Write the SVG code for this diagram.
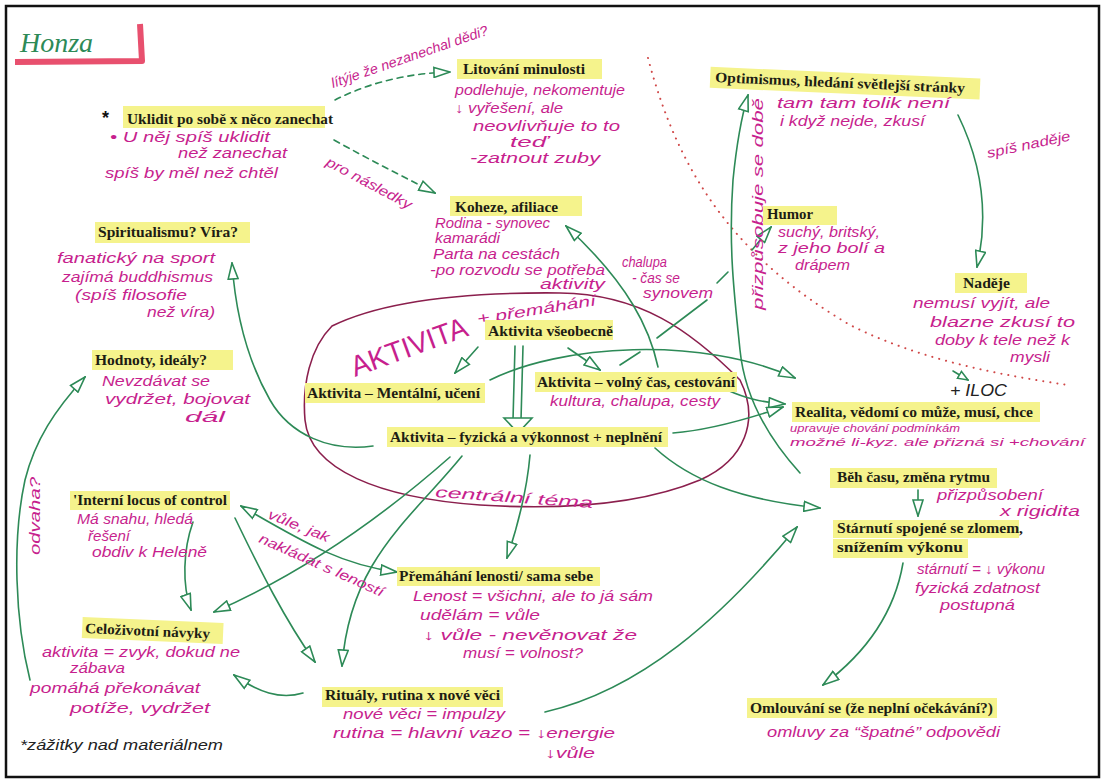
<svg xmlns="http://www.w3.org/2000/svg" width="1105" height="782" viewBox="0 0 1105 782">
<style>
.t{font-family:"Liberation Serif",serif;font-weight:bold;font-size:14.5px;fill:#1d1d14}
.h{font-family:"Liberation Sans",sans-serif;font-style:italic;font-size:14px;fill:#c71f8e}
.k{font-family:"Liberation Sans",sans-serif;font-style:italic;font-size:14px;fill:#222}
.hl{fill:#f5f38c}
.c{fill:none;stroke:#2d8a57;stroke-width:1.6;stroke-linecap:round}
.d{stroke-dasharray:6 5}
</style>
<defs>
<marker id="a" viewBox="0 0 18 12" refX="17" refY="6" markerWidth="18" markerHeight="12" markerUnits="userSpaceOnUse" orient="auto-start-reverse">
<path d="M1,1 L17,6 L1,11 Z" fill="#fff" stroke="#2d8a57" stroke-width="1.6" stroke-dasharray="none"/>
</marker>
<marker id="s" viewBox="0 0 12 10" refX="11" refY="5" markerWidth="12" markerHeight="10" markerUnits="userSpaceOnUse" orient="auto">
<path d="M1,1 L11,5 L1,9 Z" fill="#fff" stroke="#2d8a57" stroke-width="1.5"/>
</marker>
</defs>
<rect x="0" y="0" width="1105" height="782" fill="#fff"/>
<rect x="6" y="6" width="1093" height="771" fill="none" stroke="#111" stroke-width="2.5"/>

<g id="title">
<path d="M15,62 L142,61 L140,24" fill="none" stroke="#e8506e" stroke-width="6" stroke-linejoin="round"/>
<text x="20" y="52" font-family="Liberation Serif, serif" font-style="italic" font-size="28" fill="#2d8a57" textLength="73" lengthAdjust="spacingAndGlyphs">Honza</text>
</g>

<g id="decor">
<path d="M648,58 C680,180 740,260 850,325 C920,360 1000,375 1068,385" fill="none" stroke="#d04848" stroke-width="2" stroke-dasharray="0.1 7" stroke-linecap="round"/>
<path d="M332,326 C385,300 465,292 560,293 C640,294 690,330 740,380 C760,420 745,460 700,480 C640,505 560,510 480,505 C380,498 310,470 305,420 C302,385 310,348 332,326 Z" fill="none" stroke="#8b1f4d" stroke-width="1.6"/>
</g>

<g id="connectors">
<path class="c d" d="M335,100 C370,82 410,73 450,72" marker-end="url(#a)"/>
<path class="c d" d="M334,140 C370,160 400,175 435,193" marker-end="url(#a)"/>
<path class="c" d="M478,347 L455,373" marker-end="url(#a)"/>
<path class="c" d="M515,346 L513,420 M523,346 L521,420"/>
<polygon points="504,418 532,418 518,433" fill="#fff" stroke="#2d8a57" stroke-width="1.6"/>
<path class="c" d="M568,348 L600,370" marker-end="url(#a)"/>
<path class="c" d="M620,365 L640,352 M657,338 L707,300 M717,283 L728,272"/>
<path class="c" d="M752,250 L771,227" marker-end="url(#a)"/>
<path class="c" d="M658,367 C650,330 630,285 566,226" marker-end="url(#a)"/>
<path class="c" d="M490,380 C560,345 700,335 795,378" marker-end="url(#a)"/>
<path class="c" d="M727,390 C745,398 760,402 785,404" marker-end="url(#a)"/>
<path class="c" d="M673,433 C710,430 745,420 783,407" marker-end="url(#a)"/>
<path class="c" d="M800,473 C770,440 745,400 740,350 C735,300 728,250 733,180 C737,140 742,115 748,95" marker-end="url(#a)"/>
<path class="c" d="M958,115 C980,160 990,210 977,267" marker-end="url(#a)"/>
<path class="c" d="M373,446 C330,452 290,435 270,400 C250,365 236,320 232,263" marker-end="url(#a)"/>
<path class="c" d="M30,680 C15,620 12,540 25,480 C35,440 55,410 85,377" marker-end="url(#a)"/>
<path class="c" d="M193,522 C183,550 182,585 191,610" marker-end="url(#a)"/>
<path class="c" d="M450,457 C390,510 310,570 214,612" marker-end="url(#a)"/>
<path class="c" d="M462,456 C410,520 350,560 342,666" marker-end="url(#a)"/>
<path class="c" d="M235,518 C260,570 285,620 315,662" marker-end="url(#a)"/>
<path class="c" d="M241,506 C300,540 340,565 397,572" marker-start="url(#a)" marker-end="url(#a)"/>
<path class="c" d="M530,455 C527,490 518,525 507,558" marker-end="url(#a)"/>
<path class="c" d="M303,693 C280,700 258,692 234,675" marker-end="url(#a)"/>
<path class="c" d="M545,712 C640,690 720,620 797,527" marker-end="url(#a)"/>
<path class="c" d="M655,448 C690,480 740,500 820,508" marker-end="url(#a)"/>
<path class="c" d="M918,490 L918,516" marker-end="url(#a)"/>
<path class="c" d="M903,563 C895,610 870,650 823,685" marker-end="url(#a)"/>
<path class="c" d="M953,371 L968,380" marker-end="url(#s)"/>
</g>

<g id="connector-labels">
<text class="h" transform="translate(333,88) rotate(-19)" textLength="165" lengthAdjust="spacingAndGlyphs">lítýje že nezanechal dědi?</text>
<text class="h" transform="translate(325,165) rotate(28)" textLength="95" lengthAdjust="spacingAndGlyphs">pro následky</text>
<text class="h" x="622" y="267" textLength="45" lengthAdjust="spacingAndGlyphs">chalupa</text>
<text class="h" x="632" y="283" textLength="48" lengthAdjust="spacingAndGlyphs">- čas se</text>
<text class="h" x="643" y="298" textLength="70" lengthAdjust="spacingAndGlyphs">synovem</text>
<text class="h" transform="translate(763,310) rotate(-90)" textLength="212" lengthAdjust="spacingAndGlyphs">přizpůsobuje se době</text>
<text class="h" transform="translate(988,158) rotate(-12)" textLength="85" lengthAdjust="spacingAndGlyphs">spíš naděje</text>
<text class="h" transform="translate(267,518) rotate(22)" textLength="65" lengthAdjust="spacingAndGlyphs">vůle, jak</text>
<text class="h" transform="translate(258,542) rotate(24)" textLength="135" lengthAdjust="spacingAndGlyphs">nakládat s leností</text>
<text class="h" transform="translate(40,555) rotate(-90)" textLength="78" lengthAdjust="spacingAndGlyphs">odvaha?</text>
<text x="950" y="396" font-family="Liberation Sans, sans-serif" font-size="16" font-style="italic" fill="#222" textLength="57" lengthAdjust="spacingAndGlyphs">+ ILOC</text>
</g>

<g id="n-uklidit">
<rect class="hl" x="123" y="106" width="202" height="22"/>
<text x="102" y="124" font-family="Liberation Sans, sans-serif" font-size="18" font-weight="bold" fill="#111">*</text>
<text class="t" x="127" y="124" textLength="206" lengthAdjust="spacingAndGlyphs">Uklidit po sobě x něco zanechat</text>
<text class="h" x="110" y="142" textLength="160" lengthAdjust="spacingAndGlyphs">• U něj spíš uklidit</text>
<text class="h" x="178" y="158" textLength="109" lengthAdjust="spacingAndGlyphs">než zanechat</text>
<text class="h" x="105" y="178" textLength="173" lengthAdjust="spacingAndGlyphs">spíš by měl než chtěl</text>
</g>

<g id="n-litovani">
<rect class="hl" x="457" y="59" width="145" height="20"/>
<text class="t" x="463" y="74" textLength="122" lengthAdjust="spacingAndGlyphs">Litování minulosti</text>
<text class="h" x="455" y="95" textLength="170" lengthAdjust="spacingAndGlyphs">podlehuje, nekomentuje</text>
<text class="h" x="455" y="113" textLength="108" lengthAdjust="spacingAndGlyphs">↓ vyřešení, ale</text>
<text class="h" x="473" y="131" textLength="147" lengthAdjust="spacingAndGlyphs">neovlivňuje to to</text>
<text class="h" x="510" y="147" textLength="38" lengthAdjust="spacingAndGlyphs">teď</text>
<text class="h" x="470" y="163" textLength="130" lengthAdjust="spacingAndGlyphs">-zatnout zuby</text>
</g>

<g id="n-koheze">
<rect class="hl" x="450" y="196" width="132" height="20"/>
<text class="t" x="455" y="212" textLength="103" lengthAdjust="spacingAndGlyphs">Koheze, afiliace</text>
<text class="h" x="435" y="228" textLength="115" lengthAdjust="spacingAndGlyphs">Rodina - synovec</text>
<text class="h" x="435" y="243" textLength="65" lengthAdjust="spacingAndGlyphs">kamarádi</text>
<text class="h" x="433" y="259" textLength="127" lengthAdjust="spacingAndGlyphs">Parta na cestách</text>
<text class="h" x="430" y="275" textLength="175" lengthAdjust="spacingAndGlyphs">-po rozvodu se potřeba</text>
<text class="h" x="540" y="289" textLength="65" lengthAdjust="spacingAndGlyphs">aktivity</text>
</g>

<g id="n-optimismus">
<g transform="rotate(2.5 715 82)">
<rect class="hl" x="710" y="67" width="270" height="21"/>
<text class="t" x="715" y="82" textLength="250" lengthAdjust="spacingAndGlyphs">Optimismus, hledání světlejší stránky</text>
</g>
<text class="h" x="777" y="108" textLength="173" lengthAdjust="spacingAndGlyphs">tam tam tolik není</text>
<text class="h" x="780" y="126" textLength="145" lengthAdjust="spacingAndGlyphs">i když nejde, zkusí</text>
</g>

<g id="n-humor">
<rect class="hl" x="763" y="206" width="74" height="19"/>
<text class="t" x="767" y="219" textLength="46" lengthAdjust="spacingAndGlyphs">Humor</text>
<text class="h" x="778" y="237" textLength="102" lengthAdjust="spacingAndGlyphs">suchý, britský,</text>
<text class="h" x="778" y="253" textLength="107" lengthAdjust="spacingAndGlyphs">z jeho bolí a</text>
<text class="h" x="795" y="270" textLength="55" lengthAdjust="spacingAndGlyphs">drápem</text>
</g>

<g id="n-nadeje">
<rect class="hl" x="955" y="273" width="72" height="20"/>
<text class="t" x="963" y="288" textLength="47" lengthAdjust="spacingAndGlyphs">Naděje</text>
<text class="h" x="913" y="308" textLength="137" lengthAdjust="spacingAndGlyphs">nemusí vyjít, ale</text>
<text class="h" x="930" y="327" textLength="145" lengthAdjust="spacingAndGlyphs">blazne zkusí to</text>
<text class="h" x="935" y="345" textLength="135" lengthAdjust="spacingAndGlyphs">doby k tele než k</text>
<text class="h" x="1010" y="362" textLength="40" lengthAdjust="spacingAndGlyphs">mysli</text>
</g>

<g id="n-spiritualismu">
<rect class="hl" x="95" y="222" width="155" height="21"/>
<text class="t" x="98" y="237" textLength="140" lengthAdjust="spacingAndGlyphs">Spiritualismu? Víra?</text>
<text class="h" x="57" y="263" textLength="158" lengthAdjust="spacingAndGlyphs">fanatický na sport</text>
<text class="h" x="62" y="282" textLength="151" lengthAdjust="spacingAndGlyphs">zajímá buddhismus</text>
<text class="h" x="75" y="300" textLength="112" lengthAdjust="spacingAndGlyphs">(spíš filosofie</text>
<text class="h" x="147" y="317" textLength="68" lengthAdjust="spacingAndGlyphs">než víra)</text>
</g>

<g id="n-hodnoty">
<rect class="hl" x="92" y="350" width="141" height="20"/>
<text class="t" x="95" y="365" textLength="112" lengthAdjust="spacingAndGlyphs">Hodnoty, ideály?</text>
<text class="h" x="102" y="386" textLength="108" lengthAdjust="spacingAndGlyphs">Nevzdávat se</text>
<text class="h" x="105" y="404" textLength="145" lengthAdjust="spacingAndGlyphs">vydržet, bojovat</text>
<text class="h" x="185" y="422" textLength="40" lengthAdjust="spacingAndGlyphs">dál</text>
</g>

<g id="n-aktivita-theme">
<text class="h" transform="translate(355,377) rotate(-20)" style="font-size:29px;font-style:normal" textLength="122" lengthAdjust="spacingAndGlyphs">AKTIVITA</text>
<text class="h" transform="translate(478,324) rotate(-9)" style="font-size:15px" textLength="120" lengthAdjust="spacingAndGlyphs">+ přemáhání</text>
<text class="h" transform="translate(435,497) rotate(4)" style="font-size:15px" textLength="158" lengthAdjust="spacingAndGlyphs">centrální téma</text>
</g>

<g id="n-vseobecne">
<rect class="hl" x="485" y="320" width="128" height="20"/>
<text class="t" x="488" y="336" textLength="125" lengthAdjust="spacingAndGlyphs">Aktivita všeobecně</text>
</g>

<g id="n-mentalni">
<rect class="hl" x="305" y="383" width="180" height="20"/>
<text class="t" x="307" y="398" textLength="173" lengthAdjust="spacingAndGlyphs">Aktivita – Mentální, učení</text>
</g>

<g id="n-volny">
<rect class="hl" x="535" y="372" width="202" height="20"/>
<text class="t" x="537" y="387" textLength="198" lengthAdjust="spacingAndGlyphs">Aktivita – volný čas, cestování</text>
<text class="h" x="550" y="406" textLength="170" lengthAdjust="spacingAndGlyphs">kultura, chalupa, cesty</text>
</g>

<g id="n-fyzicka">
<rect class="hl" x="387" y="427" width="281" height="20"/>
<text class="t" x="390" y="442" textLength="272" lengthAdjust="spacingAndGlyphs">Aktivita – fyzická a výkonnost + neplnění</text>
</g>

<g id="n-realita">
<rect class="hl" x="792" y="402" width="248" height="20"/>
<text class="t" x="795" y="417" textLength="238" lengthAdjust="spacingAndGlyphs">Realita, vědomí co může, musí, chce</text>
<text class="h" x="790" y="432" style="font-size:11.5px" textLength="170" lengthAdjust="spacingAndGlyphs">upravuje chování podmínkám</text>
<text class="h" x="790" y="446" style="font-size:11.5px" textLength="295" lengthAdjust="spacingAndGlyphs">možné li-kyz. ale přizná si +chování</text>
</g>

<g id="n-beh">
<rect class="hl" x="830" y="468" width="167" height="20"/>
<text class="t" x="837" y="482" textLength="153" lengthAdjust="spacingAndGlyphs">Běh času, změna rytmu</text>
<text class="h" x="937" y="500" textLength="106" lengthAdjust="spacingAndGlyphs">přizpůsobení</text>
<text class="h" x="1000" y="516" textLength="80" lengthAdjust="spacingAndGlyphs">x rigidita</text>
</g>

<g id="n-starnuti">
<rect class="hl" x="833" y="520" width="186" height="18"/>
<rect class="hl" x="833" y="539" width="135" height="19"/>
<text class="t" x="837" y="533" textLength="186" lengthAdjust="spacingAndGlyphs">Stárnutí spojené se zlomem,</text>
<text class="t" x="837" y="552" textLength="126" lengthAdjust="spacingAndGlyphs">snížením výkonu</text>
<text class="h" x="917" y="574" textLength="128" lengthAdjust="spacingAndGlyphs">stárnutí = ↓ výkonu</text>
<text class="h" x="915" y="593" textLength="125" lengthAdjust="spacingAndGlyphs">fyzická zdatnost</text>
<text class="h" x="940" y="610" textLength="75" lengthAdjust="spacingAndGlyphs">postupná</text>
</g>

<g id="n-omlouvani">
<rect class="hl" x="747" y="698" width="250" height="20"/>
<text class="t" x="750" y="713" textLength="243" lengthAdjust="spacingAndGlyphs">Omlouvání se (že neplní očekávání?)</text>
<text class="h" x="767" y="737" textLength="233" lengthAdjust="spacingAndGlyphs">omluvy za “špatné” odpovědi</text>
</g>

<g id="n-interni">
<rect class="hl" x="70" y="491" width="160" height="19"/>
<text class="t" x="73" y="505" textLength="154" lengthAdjust="spacingAndGlyphs">'Interní locus of control</text>
<text class="h" x="77" y="524" textLength="116" lengthAdjust="spacingAndGlyphs">Má snahu, hledá</text>
<text class="h" x="88" y="541" textLength="42" lengthAdjust="spacingAndGlyphs">řešení</text>
<text class="h" x="92" y="557" textLength="115" lengthAdjust="spacingAndGlyphs">obdiv k Heleně</text>
</g>

<g id="n-celozivotni">
<g transform="rotate(2.5 83 633)">
<rect class="hl" x="82" y="617" width="141" height="21"/>
<text class="t" x="85" y="633" textLength="125" lengthAdjust="spacingAndGlyphs">Celoživotní návyky</text>
</g>
<text class="h" x="42" y="657" textLength="198" lengthAdjust="spacingAndGlyphs">aktivita = zvyk, dokud ne</text>
<text class="h" x="70" y="673" textLength="55" lengthAdjust="spacingAndGlyphs">zábava</text>
<text class="h" x="30" y="693" textLength="170" lengthAdjust="spacingAndGlyphs">pomáhá překonávat</text>
<text class="h" x="70" y="713" textLength="140" lengthAdjust="spacingAndGlyphs">potíže, vydržet</text>
<text class="k" x="20" y="750" textLength="203" lengthAdjust="spacingAndGlyphs">*zážitky nad materiálnem</text>
</g>

<g id="n-premahani">
<rect class="hl" x="397" y="567" width="203" height="19"/>
<text class="t" x="399" y="581" textLength="194" lengthAdjust="spacingAndGlyphs">Přemáhání lenosti/ sama sebe</text>
<text class="h" x="413" y="601" textLength="240" lengthAdjust="spacingAndGlyphs">Lenost = všichni, ale to já sám</text>
<text class="h" x="420" y="620" textLength="120" lengthAdjust="spacingAndGlyphs">udělám = vůle</text>
<text class="h" x="423" y="640" textLength="214" lengthAdjust="spacingAndGlyphs">↓ vůle - nevěnovat že</text>
<text class="h" x="463" y="658" textLength="120" lengthAdjust="spacingAndGlyphs">musí = volnost?</text>
</g>

<g id="n-ritualy">
<rect class="hl" x="322" y="687" width="181" height="20"/>
<text class="t" x="325" y="700" textLength="175" lengthAdjust="spacingAndGlyphs">Rituály, rutina x nové věci</text>
<text class="h" x="343" y="719" textLength="162" lengthAdjust="spacingAndGlyphs">nové věci = impulzy</text>
<text class="h" x="333" y="738" textLength="282" lengthAdjust="spacingAndGlyphs">rutina = hlavní vazo = ↓energie</text>
<text class="h" x="545" y="758" textLength="50" lengthAdjust="spacingAndGlyphs">↓vůle</text>
</g>
</svg>
